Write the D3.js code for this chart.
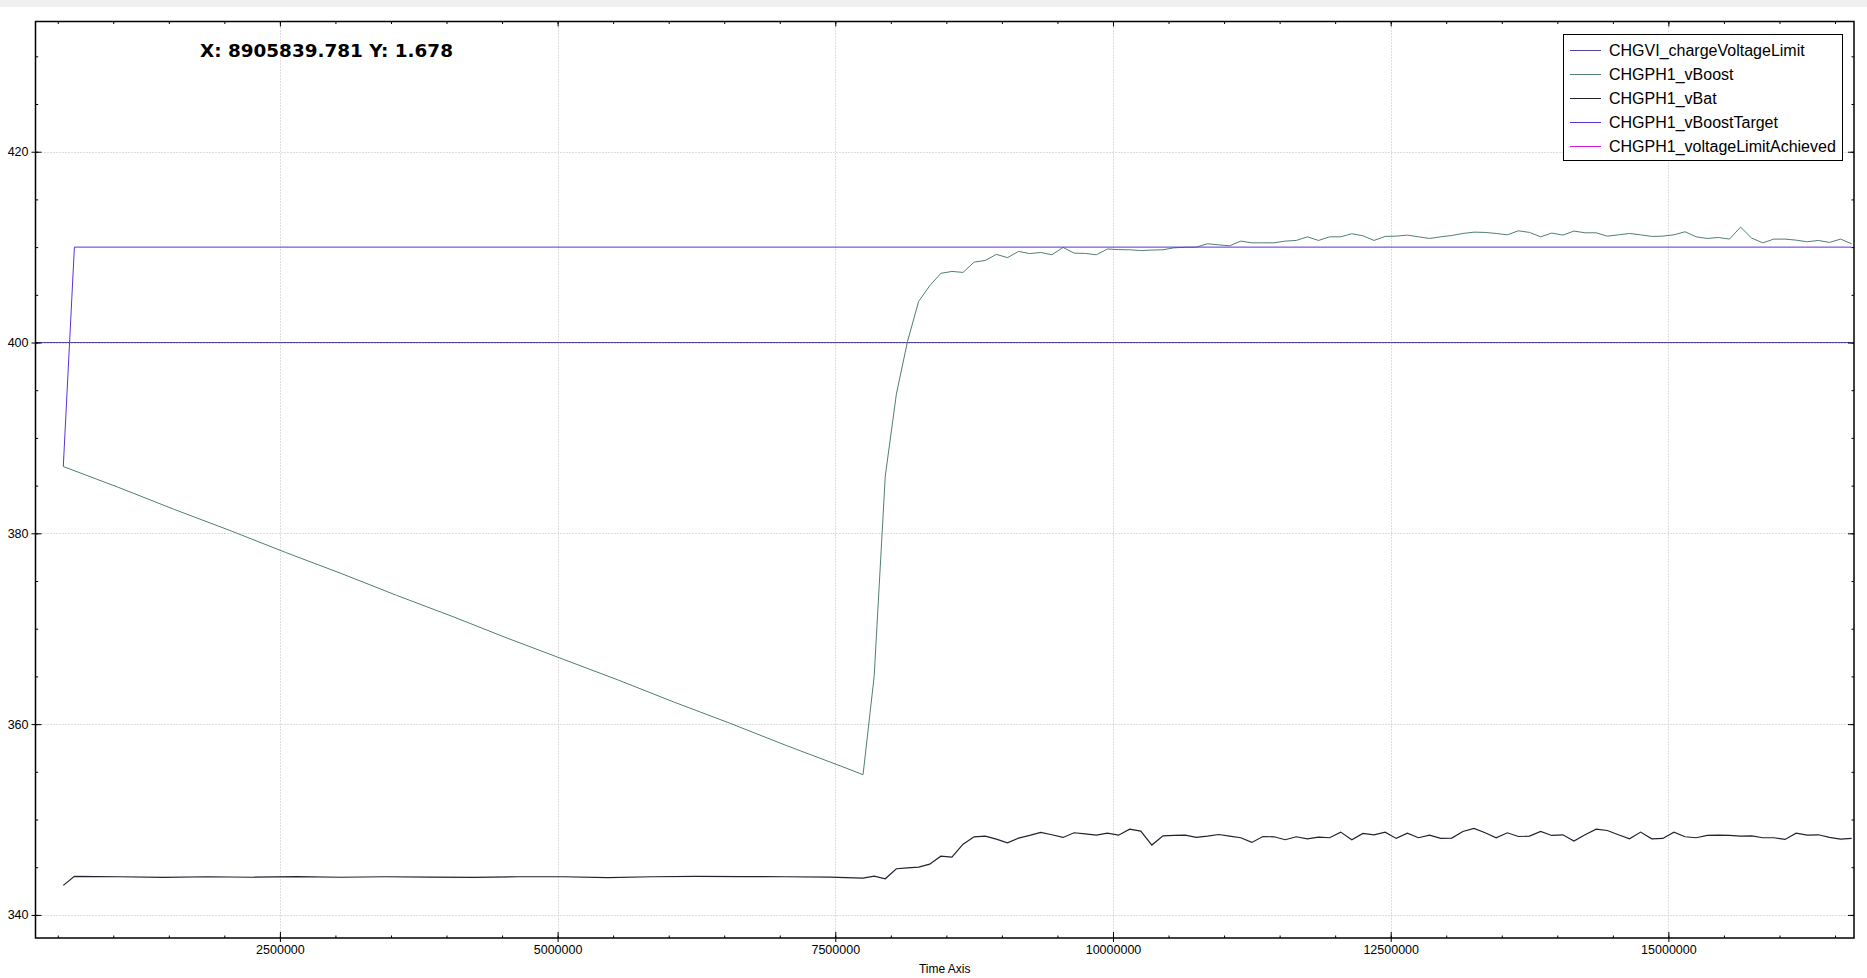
<!DOCTYPE html>
<html><head><meta charset="utf-8">
<script src="https://cdn.jsdelivr.net/npm/d3@7"></script>
<style>body{margin:0;background:#fff;overflow:hidden}svg{display:block}</style>
</head><body>
<svg id="c" width="1867" height="978"></svg>
<script>
// ---------- data ----------
const seriesNames = ["CHGVI_chargeVoltageLimit","CHGPH1_vBoost","CHGPH1_vBat","CHGPH1_vBoostTarget","CHGPH1_voltageLimitAchieved"];

const limitTimes = [250000, 16650000];
const limitValues = [400, 400];

const targetTimes = [550000, 650000, 16650000];
const targetValues = [387, 410, 410];

const achievedTimes = [550000, 16650000];
const achievedValues = [0, 0];

const boostEarlyTimes = [550000,1050000,1550000,2050000,2550000,3050000,3550000,4050000,4550000,5050000,5550000,6050000,6550000,7050000,7550000];
const boostEarlyValues = [387.0,384.8,382.5,380.3,378.0,375.8,373.5,371.3,369.0,366.8,364.6,362.3,360.1,357.8,355.6];

const batEarlyTimes = [550000,650000,1050000,1450000,1850000,2250000,2650000,3050000,3450000,3850000,4250000,4650000,5050000,5450000,5850000,6250000,6650000,7050000,7450000];
const batEarlyValues = [343.1,344.05,344.0,343.93,344.0,343.95,344.02,343.95,344.0,343.97,343.93,344.0,344.0,343.9,344.0,344.05,344.02,344.0,343.97];

const lateTimes = [7750000,7850000,7950000,8050000,8150000,8250000,8350000,8450000,8550000,8650000,
  8750000,8850000,8950000,9050000,9150000,9250000,9350000,9450000,9550000,9650000,
  9750000,9850000,9950000,10050000,10150000,10250000,10350000,10450000,10550000,10650000,
  10750000,10850000,10950000,11050000,11150000,11250000,11350000,11450000,11550000,11650000,
  11750000,11850000,11950000,12050000,12150000,12250000,12350000,12450000,12550000,12650000,
  12750000,12850000,12950000,13050000,13150000,13250000,13350000,13450000,13550000,13650000,
  13750000,13850000,13950000,14050000,14150000,14250000,14350000,14450000,14550000,14650000,
  14750000,14850000,14950000,15050000,15150000,15250000,15350000,15450000,15550000,15650000,
  15750000,15850000,15950000,16050000,16150000,16250000,16350000,16450000,16550000,16650000];

const boostLateValues = [354.7,365.0,386.0,394.6,400.1,404.3,405.95,407.25,407.45,407.35,
  408.43,408.6,409.24,408.9,409.55,409.32,409.44,409.2,409.97,409.37,
  409.34,409.2,409.8,409.74,409.72,409.64,409.69,409.72,409.93,409.98,
  410.0,410.35,410.24,410.14,410.63,410.45,410.45,410.45,410.63,410.7,
  411.08,410.7,411.08,411.08,411.4,411.19,410.7,411.12,411.15,411.26,
  411.08,410.91,411.08,411.22,411.43,411.57,411.54,411.43,411.29,411.71,
  411.54,411.08,411.47,411.26,411.68,411.5,411.5,411.15,411.29,411.43,
  411.29,411.12,411.15,411.29,411.61,411.08,410.91,411.01,410.84,412.1,
  410.94,410.45,410.84,410.84,410.73,410.56,410.7,410.49,410.84,410.35];

const batLateValues = [343.86,344.07,343.79,344.84,344.94,345.01,345.32,346.16,346.06,347.42,
  348.19,348.26,347.95,347.56,348.05,348.33,348.64,348.4,348.12,348.61,
  348.5,348.36,348.57,348.36,348.99,348.78,347.32,348.29,348.33,348.36,
  348.12,348.26,348.43,348.26,348.09,347.6,348.22,348.19,347.88,348.19,
  347.98,348.16,348.09,348.68,347.88,348.54,348.4,348.68,348.02,348.57,
  348.09,348.36,348.02,348.05,348.75,349.06,348.61,348.09,348.61,348.22,
  348.26,348.75,348.33,348.4,347.74,348.4,348.99,348.85,348.4,347.98,
  348.68,347.98,348.02,348.68,348.19,348.09,348.33,348.36,348.33,348.26,
  348.29,348.09,348.09,347.91,348.57,348.36,348.4,348.12,347.95,348.02];

const xMajorTicks = [2500000,5000000,7500000,10000000,12500000,15000000];
const yMajorTicks = [340,360,380,400,420];
const cursorLabel = "X: 8905839.781 Y: 1.678";
const xAxisTitle = "Time Axis";

// ---------- layout ----------
const W = 1867, H = 978;
const P = {left: 35.5, right: 1854, top: 21.5, bottom: 938};
const xDomain = [299800, 16671000];
const yDomain = [337.58, 433.65];
const colors = ["#4e46a0","#517e73","#20222f","#5a32d8","#d316d8"];

const svg = d3.select("#c");
const x = d3.scaleLinear().domain(xDomain).range([P.left, P.right]);
const y = d3.scaleLinear().domain(yDomain).range([P.bottom, P.top]);

svg.append("rect").attr("x",0).attr("y",0).attr("width",W).attr("height",7).attr("fill","#f0f0f0");

// grid
const grid = svg.append("g").attr("stroke","#bdbdbd").attr("stroke-width",1).attr("stroke-dasharray","1,2");
grid.selectAll(".gx").data(xMajorTicks).join("line")
  .attr("x1",d=>Math.round(x(d))+0.5).attr("x2",d=>Math.round(x(d))+0.5)
  .attr("y1",P.top).attr("y2",P.bottom);
grid.selectAll(".gy").data(yMajorTicks).join("line")
  .attr("y1",d=>Math.round(y(d))+0.5).attr("y2",d=>Math.round(y(d))+0.5)
  .attr("x1",P.left).attr("x2",P.right);

// series
svg.append("clipPath").attr("id","clip").append("rect")
  .attr("x",P.left).attr("y",P.top).attr("width",P.right-P.left).attr("height",P.bottom-P.top);

const zip = (t,v) => t.map((tt,i)=>[tt,v[i]]);
const seriesData = [
  zip(limitTimes, limitValues),
  zip(boostEarlyTimes, boostEarlyValues).concat(zip(lateTimes, boostLateValues)),
  zip(batEarlyTimes, batEarlyValues).concat(zip(lateTimes, batLateValues)),
  zip(targetTimes, targetValues),
  zip(achievedTimes, achievedValues)
];
const line = d3.line().x(d=>x(d[0])).y(d=>y(d[1]));
const plot = svg.append("g").attr("clip-path","url(#clip)");
plot.selectAll("path").data(seriesData).join("path")
  .attr("d", line).attr("fill","none")
  .attr("stroke",(d,i)=>colors[i]).attr("stroke-width",(d,i)=>i===2?1.2:1);

// axes
const xMinor = d3.range(500000, 16671000, 500000);
const yMinor = d3.range(340, 434, 5);
function axis(gen, pos, tr, values, size, labels, pad){
  const a = gen(pos).tickValues(values).tickSize(size).tickPadding(pad||7);
  if(!labels) a.tickFormat("");
  else a.tickFormat(d3.format("d"));
  const g = svg.append("g").attr("transform",tr).call(a);
  g.select(".domain").remove();
  g.selectAll("line").attr("stroke","#000");
  g.attr("font-family","'Liberation Sans', Arial, sans-serif").attr("font-size",12.5);
  g.selectAll("text").attr("fill","#000");
  return g;
}
axis(d3.axisBottom, x, `translate(0,${P.bottom})`, xMajorTicks, -6, true, 7);
axis(d3.axisBottom, x, `translate(0,${P.bottom})`, xMajorTicks, 4, false);
axis(d3.axisBottom, x, `translate(0,${P.bottom})`, xMinor, -2.5, false);
axis(d3.axisTop, x, `translate(0,${P.top})`, xMajorTicks, -5, false);
axis(d3.axisTop, x, `translate(0,${P.top})`, xMinor, -2.5, false);
axis(d3.axisLeft, y, `translate(${P.left},0)`, yMajorTicks, -6, true, 7);
axis(d3.axisLeft, y, `translate(${P.left},0)`, yMajorTicks, 4, false);
axis(d3.axisLeft, y, `translate(${P.left},0)`, yMinor, -2.7, false);
axis(d3.axisRight, y, `translate(${P.right},0)`, yMajorTicks, -6, false);
axis(d3.axisRight, y, `translate(${P.right},0)`, yMinor, -2.5, false);

// frame
svg.append("rect").attr("x",P.left).attr("y",P.top).attr("width",P.right-P.left).attr("height",P.bottom-P.top)
  .attr("fill","none").attr("stroke","#000").attr("stroke-width",1.5);

// axis title
svg.append("text").attr("x",(P.left+P.right)/2).attr("y",972.5).attr("text-anchor","middle")
  .attr("font-family","'Liberation Sans', Arial, sans-serif").attr("font-size",12).attr("fill","#000").text(xAxisTitle);

// cursor label
svg.append("text").attr("x",200).attr("y",57.3)
  .attr("font-family","'DejaVu Sans', sans-serif").attr("font-weight","bold").attr("font-size",18.4)
  .attr("fill","#000").text(cursorLabel);

// legend
const lg = svg.append("g");
lg.append("rect").attr("x",1563.5).attr("y",34.5).attr("width",279).attr("height",126)
  .attr("fill","#fff").attr("stroke","#000").attr("stroke-width",1);
seriesNames.forEach((n,i)=>{
  lg.append("line").attr("x1",1570).attr("x2",1601).attr("y1",50.5+24*i).attr("y2",50.5+24*i)
    .attr("stroke",colors[i]).attr("stroke-width",1);
  lg.append("text").attr("x",1609).attr("y",56+24*i)
    .attr("font-family","'Liberation Sans', Arial, sans-serif").attr("font-size",16).attr("fill","#000").text(n);
});
</script>
</body></html>
